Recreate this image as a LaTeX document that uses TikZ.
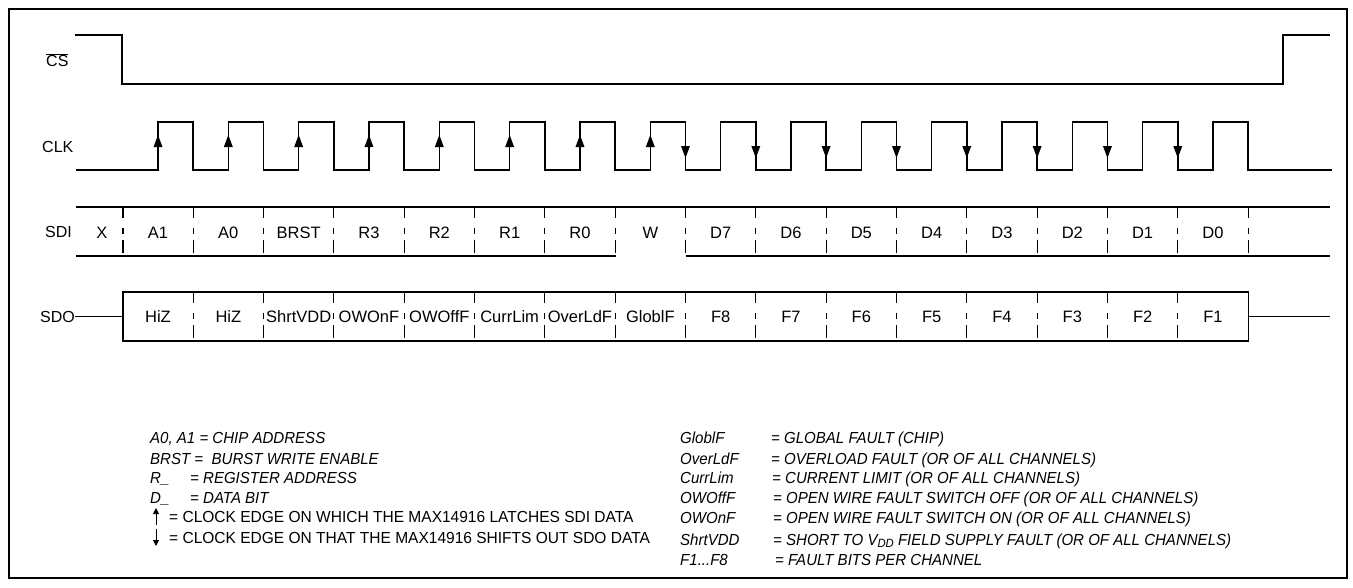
\documentclass[tikz,border=0pt]{standalone}
\usepackage{fontspec}
\setmainfont{Liberation Sans}
\newfontfamily\legfont[FakeStretch=0.94]{Liberation Sans}
\newfontfamily\legfontb[FakeStretch=0.97]{Liberation Sans}
\usetikzlibrary{arrows.meta}
\begin{document}
\begin{tikzpicture}[x=1pt,y=-1pt,
  sig/.style={line width=1.4pt, line join=miter},
  sepline/.style={line width=1.1pt, dash pattern=on 11pt off 10pt on 6pt off 6pt on 13pt off 3pt},
  lbl/.style={font=\fontsize{16}{19}\selectfont, inner sep=0pt},
  bit/.style={font=\fontsize{16.5}{19}\selectfont, inner sep=0pt, anchor=base},
  leg/.style={font=\legfont\fontsize{16}{19}\selectfont\itshape, inner sep=0pt, anchor=base west},
  legup/.style={font=\legfontb\fontsize{16}{19}\selectfont, inner sep=0pt, anchor=base west},
  legarrow/.style={line width=1pt, -{Triangle[length=6pt,width=6pt]}},
  edgetri/.style={fill=black}
]
\useasboundingbox (0,0) rectangle (1353,587);
\draw[line width=2pt] (9,9) rectangle (1347,578);

% ---- CS ----
\node[lbl, anchor=west] (cs) at (46,60) {$\overline{\hbox{CS}}$};
\draw[sig] (75,35) -- (122,35) -- (122,84) -- (1283,84) -- (1283,35) -- (1330,35);

% ---- CLK ----
\node[lbl, anchor=west] (clk) at (42,147) {CLK};
\draw[sig] (76,170)
  \foreach \k in {0,...,15} {
    -- ({158+70.33*\k},170) -- ({158+70.33*\k},122)
    -- ({193.17+70.33*\k},122) -- ({193.17+70.33*\k},170)
  } -- (1332,170);
\foreach \k in {0,...,7} {
  \fill[edgetri] ({158+70.33*\k},135) -- ({158+70.33*\k-4.5},147) -- ({158+70.33*\k+4.5},147) -- cycle;
}
\foreach \k in {7,...,14} {
  \fill[edgetri] ({193.17+70.33*\k},158) -- ({193.17+70.33*\k-4.5},146) -- ({193.17+70.33*\k+4.5},146) -- cycle;
}

% ---- SDI ----
\node[lbl, anchor=west] (sdi) at (45,232) {SDI};
\draw[sig] (76,207) -- (1330,207);
\draw[sig] (76,256) -- (615.5,256);
\draw[sig] (685.5,256) -- (1330,256);
\draw[sepline] (123,207) -- (123,256);
\foreach \k in {0,...,15} {
  \draw[sepline] ({193.17+70.33*\k},207) -- ({193.17+70.33*\k},256);
}
\node[bit] (sdix) at (102,238) {X};
\foreach \t [count=\i from 0] in {A1,A0,BRST,R3,R2,R1,R0,W,D7,D6,D5,D4,D3,D2,D1,D0} {
  \node[bit] (sdib\i) at ({158+70.33*\i},238) {\t};
}

% ---- SDO ----
\node[lbl, anchor=east] (sdo) at (75,316.5) {SDO};
\coordinate (sdoL) at (123,316.5);
\coordinate (sdoR) at (1248.2,316.5);
\coordinate (sdoEnd) at (1330,316.5);
\draw[sig] (sdo.east) -- (sdoL);
\draw[sig] (123,292) rectangle (1248.2,341);
\draw[sig] (sdoR) -- (sdoEnd);
\foreach \k in {0,...,14} {
  \draw[sepline] ({193.17+70.33*\k},292) -- ({193.17+70.33*\k},341);
}
\foreach \t [count=\i from 0] in {HiZ,HiZ,ShrtVDD,OWOnF,OWOffF,CurrLim,OverLdF,GloblF,F8,F7,F6,F5,F4,F3,F2,F1} {
  \node[bit] (sdob\i) at ({158+70.33*\i},322.5) {\t};
}

% ---- Legend left ----
\node[leg] (l1) at (150,443) {A0, A1 = CHIP ADDRESS};
\node[leg] (l2) at (150,464) {BRST =\ \ BURST WRITE ENABLE};
\node[leg] (l3a) at (150,483) {R\_};
\node[leg] (l3b) at (190,483) {= REGISTER ADDRESS};
\node[leg] (l4a) at (150,503) {D\_};
\node[leg] (l4b) at (190,503) {= DATA BIT};
\coordinate (upA) at (156,525);
\coordinate (upB) at (156,508);
\draw[legarrow] (upA) -- (upB);
\node[legup] (l5) at (169,522) {= CLOCK EDGE ON WHICH THE MAX14916 LATCHES SDI DATA};
\coordinate (dnA) at (156,529);
\coordinate (dnB) at (156,546);
\draw[legarrow] (dnA) -- (dnB);
\node[legup] (l6) at (169,543) {= CLOCK EDGE ON THAT THE MAX14916 SHIFTS OUT SDO DATA};

% ---- Legend right ----
\node[leg] (r1a) at (680,443) {GloblF};
\node[leg] (r1b) at (771,443) {= GLOBAL FAULT (CHIP)};
\node[leg] (r2a) at (680,464) {OverLdF};
\node[leg] (r2b) at (771,464) {= OVERLOAD FAULT (OR OF ALL CHANNELS)};
\node[leg] (r3a) at (680,483) {CurrLim};
\node[leg] (r3b) at (772,483) {= CURRENT LIMIT (OR OF ALL CHANNELS)};
\node[leg] (r4a) at (680,503) {OWOffF};
\node[leg] (r4b) at (773,503) {= OPEN WIRE FAULT SWITCH OFF (OR OF ALL CHANNELS)};
\node[leg] (r5a) at (680,523) {OWOnF};
\node[leg] (r5b) at (773,523) {= OPEN WIRE FAULT SWITCH ON (OR OF ALL CHANNELS)};
\node[leg] (r6a) at (680,545) {ShrtVDD};
\node[leg] (r6b) at (773,545) {= SHORT TO V\raisebox{-0.3ex}{\fontsize{12}{12}\selectfont DD} FIELD SUPPLY FAULT (OR OF ALL CHANNELS)};
\node[leg] (r7a) at (680,565) {F1...F8};
\node[leg] (r7b) at (775,565) {= FAULT BITS PER CHANNEL};
\end{tikzpicture}
\end{document}
